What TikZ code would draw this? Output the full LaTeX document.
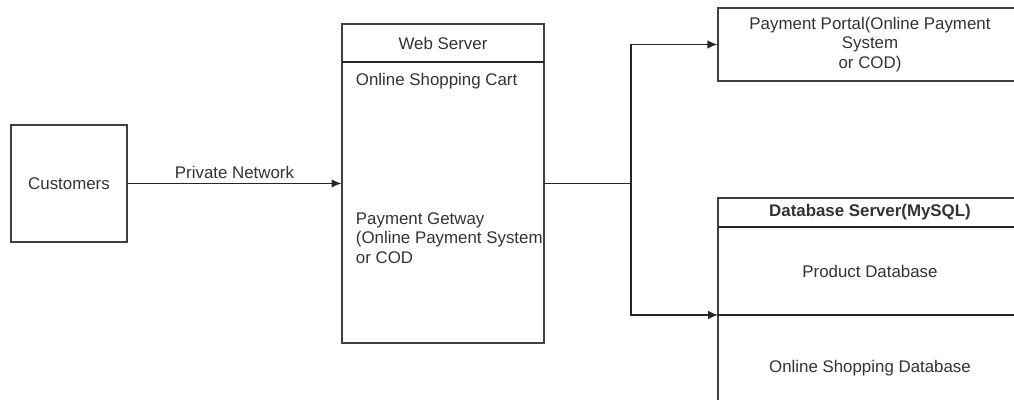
\documentclass[tikz,border=0pt]{standalone}
\usepackage{fontspec}
\setmainfont{Liberation Sans}
\usetikzlibrary{arrows.meta}
\begin{document}
\begin{tikzpicture}[
x=0.025cm,
y=-0.025cm,
font=\fontsize{12}{14}\selectfont,
text=black!80,
boite/.style={draw=black!75, line width=0.9pt, inner sep=0pt},
trait/.style={draw=black!85, line width=0.9pt},
fleche/.style={trait, -{Latex[length=7pt,width=6pt]}}
]

\useasboundingbox
(0,0)
rectangle
(1014,400);

\clip
(0,0)
rectangle
(1014,400);

% Clients
\node[boite, minimum width=2.9cm, minimum height=2.925cm]
(clients)
at (69,183.5)
{Customers};

% Serveur web
\node[boite, minimum width=5.05cm, minimum height=7.975cm]
(web)
at (443,183.5)
{};

\draw[trait]
(342,62)
--
(544,62);

\node
(webtitre)
at (443,43)
{Web Server};

\node[anchor=west]
(panier)
at (351,81)
{Online Shopping Cart};

\node[anchor=west, align=left]
(passerelle)
at (351,238)
{Payment Getway\\(Online Payment System\\or COD};

% Portail de paiement
\node[boite, minimum width=7.6cm, minimum height=1.825cm, align=center]
(portail)
at (870,44.5)
{Payment Portal(Online Payment\\System\\or COD)};

% Serveur de base de données
\node[boite, minimum width=7.6cm, minimum height=5.575cm]
(bdd)
at (870,309.5)
{};

\draw[trait]
(718,227)
--
(1022,227);

\draw[trait]
(718,315)
--
(1022,315);

\node[font=\fontsize{12}{14}\selectfont\bfseries]
(bddtitre)
at (870,212.5)
{Database Server(MySQL)};

\node
(produits)
at (870,271)
{Product Database};

\node
(achats)
at (870,368)
{Online Shopping Database};

\coordinate
(bddmilieu)
at (718,315);

% Flèches
\draw[fleche]
(clients)
--
node[above] {Private Network}
(web);

\coordinate
(embranchement)
at (631,183.5);

\draw[trait]
(web.east)
--
(embranchement);

\draw[fleche]
(embranchement)
|-
(portail.west);

\draw[fleche]
(embranchement)
|-
(bddmilieu);

\end{tikzpicture}
\end{document}
